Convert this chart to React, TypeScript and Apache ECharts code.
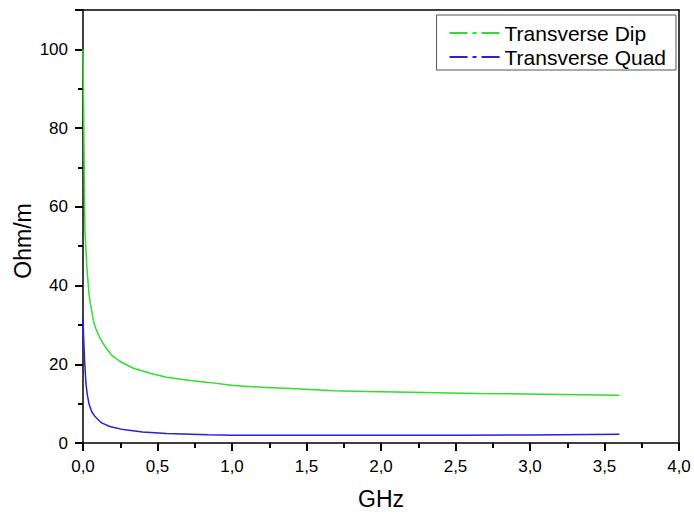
import React, { useEffect, useRef } from "react";
import * as echarts from "echarts";

const seriesNames = ["Transverse Dip", "Transverse Quad"];
const seriesColors = ["#2ee02e", "#2323d8"];

// [GHz, Ohm/m]
const dipData: [number, number][] = [
  [0, 100], [0.003, 90], [0.008, 70], [0.013, 54], [0.027, 44], [0.04, 38],
  [0.047, 36], [0.058, 33.7], [0.07, 31], [0.087, 29], [0.114, 26.6],
  [0.148, 24.5], [0.19, 22.4], [0.248, 20.7], [0.338, 19.0], [0.45, 17.7],
  [0.56, 16.7], [0.72, 15.9], [0.84, 15.4], [1.01, 14.6], [1.23, 14.1],
  [1.46, 13.7], [1.68, 13.3], [1.9, 13.1], [2.2, 12.9], [2.64, 12.6],
  [3.09, 12.4], [3.6, 12.1],
];

const quadData: [number, number][] = [
  [0, 31.6], [0.005, 26], [0.012, 20], [0.02, 15], [0.029, 12.2], [0.04, 10],
  [0.058, 8.0], [0.075, 7], [0.092, 6.3], [0.125, 5.1], [0.18, 4.2],
  [0.27, 3.4], [0.4, 2.8], [0.56, 2.4], [0.84, 2.1], [1.0, 2.0], [1.5, 2.0],
  [2.0, 2.0], [2.5, 2.0], [3.0, 2.05], [3.6, 2.2],
];

const yLabelMax = 100;
const xName = "GHz";
const yName = "Ohm/m";

const FONT = "'Liberation Sans', Arial, sans-serif";
const legendIcon = "path://M0,0H18V2H0Z M23,0H27V2H23Z M32,0H50V2H32Z";
const HIDDEN_SPLIT = { show: true, lineStyle: { color: "rgba(0,0,0,0)", width: 0 } };

export default function App() {
  const ref = useRef<HTMLDivElement>(null);
  useEffect(() => {
    if (!ref.current) return;
    const chart = echarts.init(ref.current, null, { renderer: "svg" });
    chart.setOption({
      animation: false,
      backgroundColor: "#fff",
      grid: { left: 83, right: 15, top: 10, bottom: 70 },
      legend: {
        orient: "vertical",
        right: 18,
        top: 15,
        backgroundColor: "#fff",
        borderColor: "#555",
        borderWidth: 1,
        padding: [6, 10, 1, 13],
        itemGap: 0,
        itemWidth: 50,
        itemHeight: 2,
        textStyle: { fontSize: 21, lineHeight: 24, color: "#000", fontFamily: FONT },
        data: seriesNames.map((n, i) => ({
          name: n,
          icon: legendIcon,
          itemStyle: { color: seriesColors[i] },
        })),
      },
      xAxis: [
        {
          type: "value",
          position: "bottom",
          min: 0,
          max: 4,
          interval: 0.5,
          name: xName,
          nameLocation: "middle",
          nameGap: 44,
          nameTextStyle: { fontSize: 23, color: "#000", fontFamily: FONT },
          axisLine: { show: true, onZero: false, lineStyle: { color: "#000", width: 1.5 } },
          axisTick: { show: true, length: 8, lineStyle: { color: "#000", width: 2 } },
          minorTick: { show: true, splitNumber: 2, length: 5, lineStyle: { color: "#000", width: 2 } },
          splitLine: HIDDEN_SPLIT,
          axisLabel: {
            margin: 15,
            fontSize: 17,
            color: "#000",
            fontFamily: FONT,
            formatter: (v: number) => v.toFixed(1).replace(".", ","),
          },
        },
        {
          type: "value",
          position: "top",
          min: 0,
          max: 4,
          interval: 0.5,
          axisLine: { show: true, onZero: false, lineStyle: { color: "#000", width: 1.5 } },
          axisTick: { show: false },
          axisLabel: { show: false },
          splitLine: { show: false },
        },
      ],
      yAxis: [
        {
          type: "value",
          position: "left",
          min: 0,
          max: 110,
          interval: 20,
          axisLine: { show: true, onZero: false, lineStyle: { color: "#000", width: 1.5 } },
          axisTick: { show: true, length: 8, lineStyle: { color: "#000", width: 2 } },
          minorTick: { show: true, splitNumber: 2, length: 5, lineStyle: { color: "#000", width: 2 } },
          splitLine: HIDDEN_SPLIT,
          axisLabel: {
            margin: 15,
            fontSize: 17,
            color: "#000",
            fontFamily: FONT,
            formatter: (v: number) => (v > yLabelMax ? "" : String(v)),
          },
        },
        {
          type: "value",
          position: "right",
          min: 0,
          max: 110,
          interval: 20,
          axisLine: { show: true, onZero: false, lineStyle: { color: "#000", width: 1.5 } },
          axisTick: { show: false },
          axisLabel: { show: false },
          splitLine: { show: false },
        },
      ],
      graphic: [
        {
          type: "text",
          x: 23,
          y: 241,
          rotation: Math.PI / 2,
          style: {
            text: yName,
            fontSize: 23,
            fontFamily: FONT,
            fill: "#000",
            align: "center",
            verticalAlign: "middle",
          },
        },
      ],
      series: [
        {
          name: seriesNames[0],
          type: "line",
          xAxisIndex: 0,
          yAxisIndex: 0,
          data: dipData,
          showSymbol: false,
          symbol: "none",
          itemStyle: { color: seriesColors[0] },
          lineStyle: { color: seriesColors[0], width: 1.5 },
        },
        {
          name: seriesNames[1],
          type: "line",
          xAxisIndex: 0,
          yAxisIndex: 0,
          data: quadData,
          showSymbol: false,
          symbol: "none",
          itemStyle: { color: seriesColors[1] },
          lineStyle: { color: seriesColors[1], width: 1.5 },
        },
      ],
    });
    return () => chart.dispose();
  }, []);
  return (
    <div
      ref={ref}
      style={{ position: "fixed", left: 0, top: 0, width: 694, height: 515 }}
    />
  );
}
